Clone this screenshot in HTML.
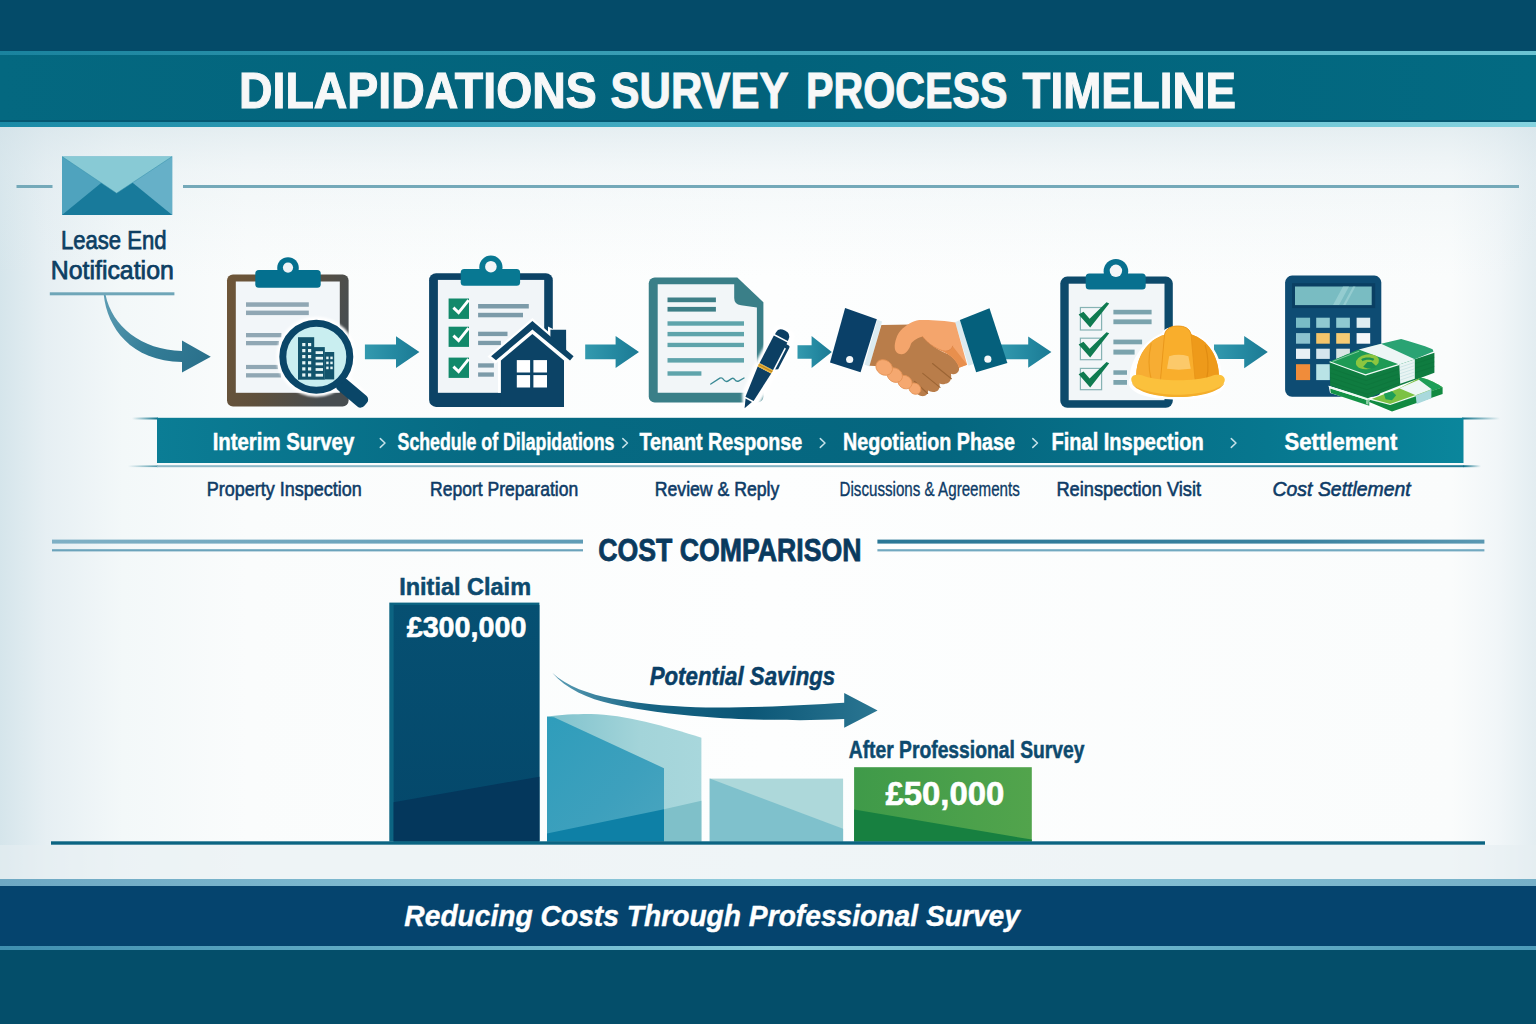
<!DOCTYPE html>
<html>
<head>
<meta charset="utf-8">
<title>Dilapidations Survey Process Timeline</title>
<style>
  html, body { margin: 0; padding: 0; background: #ffffff; }
  body { width: 1536px; height: 1024px; overflow: hidden; font-family: "Liberation Sans", sans-serif; }
  svg { display: block; }
  text { font-family: "Liberation Sans", sans-serif; }
</style>
</head>
<body>
<svg width="1536" height="1024" viewBox="0 0 1536 1024">
  <defs>
    <linearGradient id="bgH" x1="0" y1="0" x2="1" y2="0">
      <stop offset="0" stop-color="#d5e5eb"/>
      <stop offset="0.03" stop-color="#e6eff3"/>
      <stop offset="0.08" stop-color="#f3f8f9"/>
      <stop offset="0.16" stop-color="#fafcfc"/>
      <stop offset="0.5" stop-color="#fdfefe"/>
      <stop offset="0.945" stop-color="#fafcfc"/>
      <stop offset="0.975" stop-color="#f1f6f8"/>
      <stop offset="1" stop-color="#e3edf1"/>
    </linearGradient>
    <linearGradient id="bgTop" x1="0" y1="0" x2="0" y2="1">
      <stop offset="0" stop-color="#d3e2e8" stop-opacity="0.55"/>
      <stop offset="0.3" stop-color="#dde9ee" stop-opacity="0.3"/>
      <stop offset="1" stop-color="#e6eff2" stop-opacity="0"/>
    </linearGradient>
    <linearGradient id="bgBot" x1="0" y1="0" x2="0" y2="1">
      <stop offset="0" stop-color="#e2ecf0" stop-opacity="0"/>
      <stop offset="0.55" stop-color="#e2ecf0" stop-opacity="0.55"/>
      <stop offset="1" stop-color="#dfeaee" stop-opacity="0.9"/>
    </linearGradient>
    <linearGradient id="hl" x1="0" y1="0" x2="1" y2="0">
      <stop offset="0" stop-color="#1a839e"/>
      <stop offset="0.5" stop-color="#3fa3b9"/>
      <stop offset="1" stop-color="#6cc3d2"/>
    </linearGradient>
    <linearGradient id="hl2" x1="0" y1="0" x2="1" y2="0">
      <stop offset="0" stop-color="#1a8aa6"/>
      <stop offset="0.5" stop-color="#4ab0c6"/>
      <stop offset="1" stop-color="#86d3df"/>
    </linearGradient>
    <linearGradient id="ftHl" x1="0" y1="0" x2="1" y2="0">
      <stop offset="0" stop-color="#6ea8c3"/><stop offset="0.5" stop-color="#8fcbdc"/><stop offset="1" stop-color="#76b0c8"/>
    </linearGradient>
    <linearGradient id="ftHl2" x1="0" y1="0" x2="1" y2="0">
      <stop offset="0" stop-color="#3f8fb0"/><stop offset="0.5" stop-color="#86cbdc"/><stop offset="1" stop-color="#4d9bb9"/>
    </linearGradient>
    <linearGradient id="titleBand" x1="0" y1="0" x2="1" y2="0">
      <stop offset="0" stop-color="#046880"/>
      <stop offset="0.5" stop-color="#02627b"/>
      <stop offset="1" stop-color="#036a82"/>
    </linearGradient>
  </defs>

  <!-- ============ BACKGROUND ============ -->
  <rect x="0" y="0" width="1536" height="1024" fill="url(#bgH)"/>
  <rect x="0" y="127" width="1536" height="150" fill="url(#bgTop)"/>
  <rect x="0" y="845" width="1536" height="34" fill="#e6eef2" opacity="0.6"/>

  <!-- ============ HEADER ============ -->
  <rect x="0" y="0" width="1536" height="52" fill="#044b69"/>
  <rect x="0" y="51" width="1536" height="4" fill="url(#hl)"/>
  <rect x="0" y="55" width="1536" height="67" fill="url(#titleBand)"/>
  <rect x="0" y="120" width="1536" height="2" fill="#045872"/>
  <rect x="0" y="122" width="1536" height="5" fill="url(#hl2)"/>
  <g id="title" font-size="50.8" font-weight="bold" fill="#f7f8f8" stroke="#f7f8f8" stroke-width="1.1">
    <text x="239.00" y="108.3" textLength="357.80" lengthAdjust="spacingAndGlyphs">DILAPIDATIONS</text>
    <text x="610.60" y="108.3" textLength="177.97" lengthAdjust="spacingAndGlyphs">SURVEY</text>
    <text x="806.00" y="108.3" textLength="201.38" lengthAdjust="spacingAndGlyphs">PROCESS</text>
    <text x="1022.60" y="108.3" textLength="213.38" lengthAdjust="spacingAndGlyphs">TIMELINE</text>
  </g>

  <!-- ============ FOOTER ============ -->
  <rect x="0" y="879" width="1536" height="7" fill="url(#ftHl)"/>
  <rect x="0" y="886" width="1536" height="60" fill="#05446e"/>
  <rect x="0" y="946" width="1536" height="4" fill="url(#ftHl2)"/>
  <rect x="0" y="950" width="1536" height="74" fill="#044e6a"/>


  <!-- ============ TOP RULE + ENVELOPE ============ -->
  <rect x="16.5" y="185" width="36" height="3" fill="#74a9b9"/>
  <rect x="183" y="185" width="1336" height="3" fill="#74a9b9"/>
  <g id="envelope">
    <rect x="62" y="156.5" width="110.2" height="58.5" fill="#4fa3be"/>
    <polygon points="172.2,156.5 172.2,215 117,176" fill="#66b0c8"/>
    <polygon points="62,215 117,170 172.2,215" fill="#187a9b"/>
    <polygon points="62,156.5 172.2,156.5 116.6,193.2" fill="#88cad5"/>
    <polyline points="62,156.5 116.6,193.2 172.2,156.5" fill="none" stroke="#2f8ca8" stroke-width="0.8" opacity="0.6"/>
  </g>

  <!-- ============ LEASE END NOTIFICATION ============ -->
  <g fill="#0d3f63" stroke="#0d3f63" stroke-width="0.75" font-size="25.2">
    <text x="60.91" y="248.8" textLength="105.68" lengthAdjust="spacingAndGlyphs">Lease End</text>
    <text x="50.75" y="279.2" textLength="123.07" lengthAdjust="spacingAndGlyphs">Notification</text>
  </g>
  <rect x="49.8" y="292.3" width="124.6" height="3" fill="#6fa6b8"/>
  <defs>
    <linearGradient id="swoosh1" gradientUnits="userSpaceOnUse" x1="104" y1="295" x2="211" y2="357">
      <stop offset="0" stop-color="#5d9db4"/>
      <stop offset="0.55" stop-color="#337c96"/>
      <stop offset="1" stop-color="#2a708b"/>
    </linearGradient>
  </defs>
  <path d="M103.8,295 C107,327 131,361.5 182,362 L182,372.6 L210.8,356.8 L182,340.4 L182,351 C141,350 112,326 105.6,295 Z" fill="url(#swoosh1)"/>


  <!-- ============ STRAIGHT STEP ARROWS ============ -->
  <defs>
    <linearGradient id="arw" x1="0" y1="0" x2="1" y2="0">
      <stop offset="0" stop-color="#3399ae"/>
      <stop offset="0.5" stop-color="#258aa2"/>
      <stop offset="1" stop-color="#1b7a94"/>
    </linearGradient>
    <filter id="soft" x="-10%" y="-10%" width="120%" height="120%"><feGaussianBlur stdDeviation="0.35"/></filter>
    <filter id="halo" x="-10%" y="-10%" width="120%" height="120%"><feGaussianBlur stdDeviation="0.9"/></filter>
  </defs>
  <g fill="url(#arw)">
    <path d="M364.9,344.6 H396 V336.3 L419.4,352 L396,367.9 V359.2 H364.9 Z"/>
    <path d="M585.2,344.4 H615.6 V336 L639,352 L615.6,367.9 V359.3 H585.2 Z"/>
    <path d="M797.5,345.2 H811.6 V336.1 L831.8,352.1 L811.6,368.1 V358.8 H797.5 Z"/>
    <path d="M1000,344.6 H1028.2 V336.4 L1051.4,352.1 L1028.2,367.8 V359.2 H1000 Z"/>
    <path d="M1214,344.6 H1244.2 V336 L1267.8,352.1 L1244.2,368.2 V359 H1214 Z"/>
  </g>

  <!-- ============ ICON 1 : CLIPBOARD + MAGNIFIER ============ -->
  <defs>
    <linearGradient id="brown" x1="0" y1="0" x2="1" y2="0.35">
      <stop offset="0" stop-color="#6f5638"/>
      <stop offset="0.5" stop-color="#5f503c"/>
      <stop offset="1" stop-color="#474d50"/>
    </linearGradient>
    <clipPath id="lensClip"><circle cx="316.3" cy="356.7" r="30"/></clipPath>
  </defs>
  <g id="icon1">
    <rect x="227" y="274.6" width="121.6" height="131.8" rx="6" fill="url(#brown)"/>
    <rect x="235.8" y="281.5" width="104" height="111.3" fill="#f2f6f9"/>
    <g fill="#90a7b4">
      <rect x="246" y="302.3" width="62.8" height="4.5"/>
      <rect x="246" y="310.6" width="62.8" height="4.5"/>
      <rect x="246" y="333" width="35.4" height="4.3"/>
      <rect x="246" y="341" width="33" height="4.3"/>
      <rect x="246" y="364.9" width="32" height="4.2"/>
      <rect x="246" y="373.2" width="35" height="4.3"/>
    </g>
    <!-- clip -->
    <circle cx="288" cy="268" r="10.8" fill="#04708f"/>
    <rect x="255.3" y="270" width="65.4" height="17.8" rx="3.5" fill="#04708f"/>
    <circle cx="288" cy="267.6" r="5.1" fill="#eef3f6"/>
    <!-- magnifier -->
    <g>
      <circle cx="316.3" cy="356.7" r="40" fill="#ffffff" filter="url(#halo)"/>
      <path d="M336,383 L346,373 L368,394 L358,404 Z" fill="#ffffff" filter="url(#halo)"/>
      <rect x="-7" y="0" width="14" height="35.5" rx="5" fill="#0a4668" transform="translate(338.5,381.5) rotate(-50)"/>
      <circle cx="316.3" cy="356.7" r="33.5" fill="#c9eef0" stroke="#0a4668" stroke-width="7"/>
      <g clip-path="url(#lensClip)">
        <g fill="#12546c">
          <rect x="298" y="337.2" width="16.2" height="42.5"/>
          <rect x="314" y="347.1" width="10.8" height="32.6"/>
          <rect x="324.6" y="352" width="9.6" height="27.4"/>
        </g>
        <g fill="#e6f6f6">
          <rect x="302.2" y="343" width="3.2" height="3.2"/><rect x="308" y="343" width="3.2" height="3.2"/>
          <rect x="302.2" y="349" width="3.2" height="3.2"/><rect x="308" y="349" width="3.2" height="3.2"/>
          <rect x="302.2" y="355" width="3.2" height="3.2"/><rect x="308" y="355" width="3.2" height="3.2"/>
          <rect x="302.2" y="361.2" width="3.2" height="3.2"/><rect x="308" y="361.2" width="3.2" height="3.2"/>
          <rect x="302.2" y="367.3" width="3.2" height="3.2"/><rect x="308" y="367.3" width="3.2" height="3.2"/>
          <rect x="302.2" y="373.4" width="3.2" height="3.2"/><rect x="308" y="373.4" width="3.2" height="3.2"/>
          <rect x="315.6" y="351.2" width="7.4" height="2.8"/>
          <rect x="315.6" y="356.8" width="7.4" height="2.8"/>
          <rect x="315.6" y="362.5" width="7.4" height="2.8"/>
          <rect x="315.6" y="368.1" width="7.4" height="2.8"/>
          <rect x="315.6" y="373.8" width="7.4" height="2.8"/>
          <rect x="326.2" y="356.6" width="2.4" height="2.6"/><rect x="330.3" y="356.6" width="2.4" height="2.6"/>
          <rect x="326.2" y="361.6" width="2.4" height="2.6"/><rect x="330.3" y="361.6" width="2.4" height="2.6"/>
          <rect x="326.2" y="366.6" width="2.4" height="2.6"/><rect x="330.3" y="366.6" width="2.4" height="2.6"/>
        </g>
      </g>
    </g>
  </g>

  <!-- ============ ICON 2 : CHECKLIST + HOUSE ============ -->
  <g id="icon2">
    <rect x="429.1" y="273.2" width="123.7" height="133.7" rx="7" fill="#0c4366"/>
    <rect x="437.9" y="279.9" width="106.3" height="112.9" fill="#f1f5f8"/>
    <g fill="#12896a">
      <rect x="448.6" y="298.5" width="20.4" height="20.4"/>
      <rect x="448.6" y="326.7" width="20.4" height="20.2"/>
      <rect x="448.6" y="357.6" width="20.4" height="20.3"/>
    </g>
    <g fill="none" stroke="#ffffff" stroke-width="2.9" stroke-linejoin="miter">
      <polyline points="453.4,307.6 458.6,312.6 468.6,300.2"/>
      <polyline points="453.4,335.6 458.6,340.6 468.6,328.2"/>
      <polyline points="453.4,366.6 458.6,371.6 468.6,359.2"/>
    </g>
    <g fill="#7c9ba9">
      <rect x="478.1" y="304" width="50.7" height="4.5"/>
      <rect x="478.1" y="312.8" width="44.9" height="4.5"/>
      <rect x="478.1" y="331.7" width="29.4" height="4.4"/>
      <rect x="478.1" y="340.8" width="22.8" height="4.3"/>
      <rect x="478.1" y="363.3" width="15.8" height="4.3"/>
      <rect x="478.1" y="372.4" width="15.8" height="4.3"/>
    </g>
    <circle cx="490.9" cy="267.2" r="11.6" fill="#087892"/>
    <rect x="460.7" y="269.1" width="59.4" height="16.6" rx="3.5" fill="#087892"/>
    <circle cx="490.9" cy="266.7" r="5.8" fill="#f3f6f8"/>
    <!-- house with white halo -->
    <g>
      <path d="M532.4,318 L487.5,356.5 L495.5,363.8 L498,361.6 V392.8 H555 V330 L548,326.5 L548,331.5 Z" fill="#ffffff" filter="url(#soft)"/>
      <path d="M550.4,329.7 H566.1 V352 L550.4,338.5 Z" fill="#0c4366"/>
      <path d="M532.4,321.1 L491.1,356.3 L496,360.2 L532.4,329.6 L570,360.4 L573.6,356.3 Z" fill="#0c4366"/>
      <path d="M532.4,333.9 L500.9,360.4 V406.9 H564 V360.4 Z" fill="#0c4366"/>
      <g fill="#ffffff">
        <rect x="516.8" y="360.1" width="13.3" height="12.4"/>
        <rect x="533.4" y="360.1" width="13.6" height="12.4"/>
        <rect x="516.8" y="375.1" width="13.3" height="12.4"/>
        <rect x="533.4" y="375.1" width="13.6" height="12.4"/>
      </g>
    </g>
  </g>

  <!-- ============ ICON 3 : DOCUMENT + PEN ============ -->
  <g id="icon3">
    <path d="M654.75,277.5 H737.3 L763.4,302.2 V396.5 a6,6 0 0 1 -6,6 H654.75 a6,6 0 0 1 -6,-6 V283.5 a6,6 0 0 1 6,-6 Z" fill="#3a7f88"/>
    <path d="M657.7,284.2 H734.2 V298 Q734.2,304.4 741,305.2 L756.9,307.6 V392.8 H657.7 Z" fill="#f2f6f8"/>
    <g fill="#3e7f87">
      <rect x="667.5" y="297.5" width="48.4" height="4.7"/>
      <rect x="667.5" y="306.9" width="48.4" height="4.7"/>
    </g>
    <g fill="#5fa4ab">
      <rect x="667.5" y="321.3" width="76.5" height="4.4"/>
      <rect x="667.5" y="331.9" width="76.5" height="4.4"/>
      <rect x="667.5" y="342.8" width="76.5" height="4.3"/>
      <rect x="667.5" y="358.1" width="76.5" height="4.5"/>
      <rect x="667.5" y="371.3" width="33.9" height="4.4"/>
    </g>
    <path d="M710.8,384 L719.8,378.2 Q722,377.2 723.6,379.6 Q726,382.6 728.6,380.6 L731.6,378.6 Q733.4,377.6 734.6,379.4 Q736.6,382.2 739,380.8 L744,378" fill="none" stroke="#3a8a95" stroke-width="1.4" stroke-linecap="round"/>
    <!-- pen: drawn vertical (tip at 0,0 ; top at 0,-88) then rotated 27.5deg -->
    <g transform="translate(744.6,408.2) rotate(27.5)">
      <path d="M0,4 L-9,-12 L-11.5,-40 L-11,-84 Q-11,-91 0,-91 Q12,-91 12,-84 L14.5,-74 L14.5,-44 L12.5,-40 L11,-10 Z" fill="#ffffff" filter="url(#halo)"/>
      <path d="M0,0 L-3.6,-9 H3.6 Z" fill="#0c3f63"/>
      <path d="M-4.6,-10.6 H4.6 L7.6,-43 H-7.6 Z" fill="#0c3f63"/>
      <rect x="-7.7" y="-47" width="15.4" height="4" fill="#e8b23a"/>
      <rect x="-7.7" y="-45.6" width="15.4" height="1" fill="#b9821d"/>
      <path d="M-7.6,-47 V-78 H7.6 V-47 Z" fill="#0c3f63"/>
      <path d="M-7.2,-79.6 V-82 Q-7.2,-87.5 0,-87.5 Q7.2,-87.5 7.2,-81 V-79.6 Z" fill="#0c3f63"/>
      <path d="M7.2,-76 H10.2 Q11.8,-76 11.8,-74 V-50 L9.2,-48.5 V-72 H7.2 Z" fill="#0c3f63"/>
    </g>
  </g>


  <!-- ============ ICON 4 : HANDSHAKE (authored in 6.144x zoom coords) ============ -->
  <g id="icon4" transform="translate(815,290) scale(0.16276)">
    <!-- sleeves + cuffs -->
    <polygon points="383,183 412,194 336,470 304,460" fill="#dcebf0"/>
    <polygon points="185,110 380,180 280,505 92,445" fill="#0a4068"/>
    <circle cx="213" cy="427" r="22" fill="#f4f7f9"/>
    <polygon points="890,185 860,198 943,466 974,454" fill="#dcebf0"/>
    <polygon points="1072,112 1182,448 990,505 890,185" fill="#05607c"/>
    <circle cx="1062" cy="425" r="22" fill="#f4f7f9"/>
    <!-- brown hand -->
    <path d="M408,215 L600,212 L660,285 C700,330 760,370 820,395 C860,420 890,455 885,490 C880,515 850,522 835,515 C842,545 830,575 800,576 C790,581 775,580 765,575 C770,600 760,625 735,626 C720,629 705,625 695,618 C696,640 680,655 655,652 C635,650 615,630 600,604 L400,468 L335,465 Z" fill="#b97d4a"/>
    <g fill="none" stroke="#9c6535" stroke-width="7" stroke-linecap="round">
      <path d="M722,452 L838,545"/>
      <path d="M662,512 L768,598"/>
      <path d="M612,562 L692,636"/>
    </g>
    <!-- light hand -->
    <path d="M862,200 L935,460 L885,478 C880,450 850,415 815,393 C760,370 700,330 660,285 C640,290 600,310 590,330 C580,365 560,390 540,393 C515,398 492,385 490,355 C488,320 505,270 525,250 C560,215 600,190 640,185 C700,182 800,188 862,200 Z" fill="#f4a56c"/>
    <path d="M790,378 C820,376 840,362 846,345 L935,460 L885,478 C880,450 850,415 815,393 Z" fill="#e58b48" opacity="0.85"/>
    <path d="M660,285 C700,335 760,372 800,376 C825,376 842,362 846,345" fill="none" stroke="#e08a4c" stroke-width="6" stroke-linecap="round"/>
    <!-- light finger tips wrapping under -->
    <g fill="#f5a870" stroke="#e39255" stroke-width="5">
      <ellipse cx="614" cy="606" rx="38" ry="33" transform="rotate(35 614 606)"/>
      <ellipse cx="553" cy="566" rx="46" ry="39" transform="rotate(35 553 566)"/>
      <ellipse cx="490" cy="523" rx="50" ry="42" transform="rotate(35 490 523)"/>
      <ellipse cx="425" cy="476" rx="54" ry="45" transform="rotate(35 425 476)"/>
    </g>
  </g>
  </g>

  <!-- ============ ICON 5 : CHECKLIST + HARD HAT ============ -->
  <g id="icon5">
    <rect x="1060.3" y="276.6" width="112.5" height="131.1" rx="7" fill="#0d4a6b"/>
    <rect x="1068.7" y="283.7" width="95.8" height="116.5" fill="#f2f6f8"/>
    <g fill="none" stroke="#86b3b4" stroke-width="1.2">
      <rect x="1080.4" y="307.5" width="21.2" height="22.5"/>
      <rect x="1080.4" y="338.2" width="21.2" height="21.5"/>
      <rect x="1080.4" y="368.4" width="21.2" height="21.3"/>
    </g>
    <g fill="#0e7a50">
      <path d="M1078.6,314.5 L1083.5,311.8 L1089.6,318.8 L1106.5,302.3 L1109.2,303.4 L1090.2,327.6 Z"/>
      <path d="M1078.6,344.4 L1083.5,341.7 L1089.6,348.7 L1106.5,332.2 L1109.2,333.3 L1090.2,357.5 Z"/>
      <path d="M1078.6,374.3 L1083.5,371.6 L1089.6,378.6 L1106.5,362.1 L1109.2,363.2 L1090.2,387.4 Z"/>
    </g>
    <g fill="#7ba3ad">
      <rect x="1113.4" y="309.8" width="38.2" height="4.6"/>
      <rect x="1113.4" y="319.4" width="38.2" height="4.8"/>
      <rect x="1113.4" y="339.6" width="28.7" height="4.7"/>
      <rect x="1113.4" y="349.6" width="21.2" height="5"/>
      <rect x="1113.4" y="370.3" width="13.6" height="4.5"/>
      <rect x="1113.4" y="380" width="13.6" height="4.8"/>
    </g>
    <circle cx="1115.9" cy="271.2" r="12.3" fill="#08708f"/>
    <rect x="1085.7" y="273.6" width="60" height="15.9" rx="3.5" fill="#08708f"/>
    <circle cx="1115.9" cy="270.8" r="6.2" fill="#f3f6f8"/>
    <!-- hard hat (authored in 6.025x zoom coords) -->
    <g transform="translate(1045,250) scale(0.16598)">
      <path d="M512,772 C508,690 565,565 705,500 C722,448 878,448 895,500 C1005,545 1066,650 1062,748 C1108,772 1092,855 1005,880 C900,908 700,908 605,880 C508,855 490,800 512,772 Z" fill="#ffffff" filter="url(#halo)" transform="translate(0,0)"/>
      <path d="M550,772 C545,640 620,540 720,510 C730,470 760,458 800,458 C840,458 870,470 880,508 C980,540 1050,640 1048,772 Z" fill="#f6a623"/>
      <path d="M550,772 C545,640 620,540 720,510 L695,790 Z" fill="#f7ad33"/>
      <path d="M880,508 C980,540 1050,640 1048,772 L905,792 Z" fill="#ee9a1a"/>
      <path d="M720,510 C730,470 760,458 800,458 C840,458 870,470 880,508 L905,792 L695,792 Z" fill="#f9ae2c" stroke="#e79418" stroke-width="5"/>
      <path d="M640,562 C622,640 624,720 640,782" fill="none" stroke="#ec9c1f" stroke-width="7"/>
      <path d="M965,572 C986,650 986,720 974,778" fill="none" stroke="#e08c12" stroke-width="7"/>
      <path d="M748,640 Q805,622 864,640 L878,716 Q805,726 735,716 Z" fill="#fcc96a"/>
      <path d="M520,772 C526,750 560,745 600,760 C700,792 900,792 1000,760 C1040,745 1078,750 1083,778 C1090,832 950,886 800,886 C650,886 510,832 520,772 Z" fill="#fbc13c"/>
      <path d="M524,800 C560,850 690,872 800,872 C910,872 1040,850 1080,800 C1070,845 950,886 800,886 C650,886 535,845 524,800 Z" fill="#f4ae2b"/>
    </g>
  </g>

  <!-- ============ ICON 6 : CALCULATOR + CASH ============ -->
  <g id="icon6">
    <rect x="1285.1" y="275.6" width="96.2" height="121.1" rx="7" fill="#0e4c73"/>
    <rect x="1292" y="283.2" width="83.2" height="24.9" fill="#0a3f63"/>
    <rect x="1295" y="286.5" width="76.7" height="18.6" fill="#79bcc2"/>
    <polygon points="1333,305.1 1343,286.5 1349,286.5 1339,305.1" fill="#9fd3d6" opacity="0.7"/>
    <polygon points="1343,305.1 1353,286.5 1355.5,286.5 1345.5,305.1" fill="#9fd3d6" opacity="0.7"/>
    <g>
      <rect x="1296" y="317.7" width="14.1" height="10.1" fill="#79bcc6"/>
      <rect x="1316.2" y="317.7" width="13.6" height="10.1" fill="#8fc9d1"/>
      <rect x="1336.2" y="317.7" width="13.7" height="10.1" fill="#8fc9d1"/>
      <rect x="1356.6" y="317.7" width="13.6" height="10.1" fill="#dfeef2"/>
      <rect x="1296" y="333.1" width="14.1" height="10.6" fill="#8cc2cf"/>
      <rect x="1316.2" y="333.1" width="13.6" height="10.6" fill="#f3c46a"/>
      <rect x="1336.2" y="333.1" width="13.7" height="10.6" fill="#f6cb74"/>
      <rect x="1356.6" y="333.1" width="13.6" height="10.6" fill="#f4f7f9"/>
      <rect x="1296" y="348.7" width="14.1" height="10.2" fill="#e8f0f5"/>
      <rect x="1316.2" y="348.7" width="13.6" height="10.2" fill="#d5e6ee"/>
      <rect x="1336.2" y="348.7" width="13.7" height="10.2" fill="#d9e5e4"/>
      <rect x="1296" y="364.2" width="14.1" height="15.9" fill="#f08c3a"/>
      <rect x="1316.2" y="364.2" width="13.6" height="15.9" fill="#b9e3e6"/>
    </g>
    <!-- cash (authored in 10.97x zoom coords of region x0=1320,y0=330) -->
    <g transform="translate(1320,330) scale(0.09116)">
      <!-- lower bundle -->
      <path d="M95,612 L545,748 L870,640 L1100,520 L1345,628 L1345,702 L800,902 L110,690 Z" fill="#ffffff" filter="url(#soft)"/>
      <path d="M112,640 L540,775 L540,830 L118,692 Z" fill="#149347"/>
      <path d="M95,612 L545,748 L545,776 L100,640 Z" fill="#eefaf3"/>
      <path d="M560,760 L870,640 L1100,520 C1200,540 1290,590 1345,628 L770,818 Z" fill="#7cc242"/>
      <path d="M1100,520 C1200,540 1290,590 1345,628 L1225,668 L1075,560 Z" fill="#1e9e58"/>
      <path d="M870,640 L1085,545 L1225,650 L1050,715 Z" fill="#edf7f6"/>
      <path d="M700,700 L790,672 L835,715 L790,770 L720,760 Z" fill="#1e9e58"/>
      <path d="M560,760 L770,818 L1050,720" fill="none" stroke="#eefaf3" stroke-width="12"/>
      <path d="M540,790 L790,895 L1345,702 L1345,628 L770,822 L545,765 Z" fill="#118a41"/>
      <path d="M1050,718 L1222,652 L1222,748 L1060,812 Z" fill="#a9d9dc"/>
      <path d="M505,770 L540,760 L530,820 L505,812 Z" fill="#8fd0a8"/>
      <!-- upper bundle : left+front faces -->
      <path d="M108,350 L500,490 L870,375 L1040,320 L1255,250 L1255,470 L870,612 L525,748 L112,612 Z" fill="#0f7c40"/>
      <g stroke="#0a6a35" stroke-width="5" fill="none" opacity="0.7">
        <path d="M112,420 L505,555 L870,430 M112,470 L510,605 L870,480 M112,520 L515,655 L870,530 M112,570 L520,705 L870,580"/>
        <path d="M1040,370 L1255,300 M1040,420 L1255,350 M1040,470 L1255,400"/>
      </g>
      <!-- band on front face -->
      <path d="M870,375 L1040,320 L1040,535 L880,590 Z" fill="#e9f4f3"/>
      <g stroke="#b5d9dd" stroke-width="6" fill="none">
        <path d="M875,410 L1040,355 M876,445 L1040,390 M877,480 L1040,425 M878,515 L1040,460 M879,550 L1040,495"/>
      </g>
      <!-- top face -->
      <path d="M105,348 C250,290 420,215 670,150 L890,100 C1000,130 1130,170 1235,210 L1245,235 L1040,322 L870,378 L500,492 Z" fill="#2aa373"/>
      <path d="M105,348 C250,290 350,245 425,215 L870,378 L500,492 C380,450 230,395 105,348 Z" fill="#1e9a55"/>
      <path d="M425,213 L670,150 L1040,322 L870,378 Z" fill="#edf6f5"/>
      <path d="M105,348 C230,395 380,450 500,492 L870,378" fill="none" stroke="#f2fbf6" stroke-width="14" stroke-linejoin="round"/>
      <path d="M140,345 L430,232" fill="none" stroke="#d9f2e2" stroke-width="6"/>
      <!-- emblem -->
      <ellipse cx="520" cy="348" rx="128" ry="80" fill="#8cc63f" transform="rotate(-10 520 348)"/>
      <path d="M452,322 C480,296 565,294 596,318 L582,338 C556,320 492,322 468,342 Z" fill="#1a9150"/>
      <path d="M474,402 L520,352 L566,352 L622,400 C590,428 508,430 474,402 Z" fill="#1a9150"/>
    </g>
  </g>



  <!-- ============ TEAL STEP BAND ============ -->
  <defs>
    <linearGradient id="stepBand" x1="0" y1="0" x2="1" y2="0">
      <stop offset="0" stop-color="#0b7d95"/>
      <stop offset="0.25" stop-color="#066a83"/>
      <stop offset="0.6" stop-color="#05667f"/>
      <stop offset="0.85" stop-color="#07778f"/>
      <stop offset="1" stop-color="#0a869c"/>
    </linearGradient>
    <linearGradient id="underBand" x1="0" y1="0" x2="1" y2="0">
      <stop offset="0" stop-color="#8fb9c7"/><stop offset="0.55" stop-color="#7fb0c0"/><stop offset="0.8" stop-color="#3f8fa6"/><stop offset="1" stop-color="#1f7a93"/>
    </linearGradient>
    <linearGradient id="fadeL" x1="0" y1="0" x2="1" y2="0">
      <stop offset="0" stop-color="#0b6f88" stop-opacity="0"/>
      <stop offset="1" stop-color="#0b6f88" stop-opacity="1"/>
    </linearGradient>
    <linearGradient id="fadeR" x1="0" y1="0" x2="1" y2="0">
      <stop offset="0" stop-color="#0b6f88" stop-opacity="1"/>
      <stop offset="1" stop-color="#0b6f88" stop-opacity="0"/>
    </linearGradient>
  </defs>
  <rect x="132" y="417.5" width="26" height="2" fill="url(#fadeL)"/>
  <rect x="1462" y="417.5" width="38" height="2" fill="url(#fadeR)"/>
  <rect x="157" y="417.8" width="1306.5" height="45.2" fill="url(#stepBand)"/>
  <rect x="128" y="465.4" width="30" height="1.7" fill="url(#fadeL)" opacity="0.7"/>
  <rect x="157" y="465.2" width="1306.5" height="2" fill="url(#underBand)"/>
  <rect x="1463" y="465.2" width="18" height="2" fill="url(#fadeR)"/>

  <g fill="#ffffff" stroke="#ffffff" stroke-width="0.5" font-size="23.8" font-weight="bold">
    <text x="212.64" y="449.9" textLength="141.59" lengthAdjust="spacingAndGlyphs">Interim Survey</text>
    <text x="397.56" y="449.9" textLength="216.87" lengthAdjust="spacingAndGlyphs">Schedule of Dilapidations</text>
    <text x="639.44" y="449.9" textLength="162.78" lengthAdjust="spacingAndGlyphs">Tenant Response</text>
    <text x="843.12" y="449.9" textLength="171.73" lengthAdjust="spacingAndGlyphs">Negotiation Phase</text>
    <text x="1051.56" y="449.9" textLength="152.18" lengthAdjust="spacingAndGlyphs">Final Inspection</text>
    <text x="1284.55" y="449.9" textLength="112.91" lengthAdjust="spacingAndGlyphs">Settlement</text>
  </g>
  <g fill="none" stroke="#c4e1e8" stroke-width="1.5" stroke-linecap="round" stroke-linejoin="round">
    <polyline points="380.3,438.6 385,443 380.3,447.4"/>
    <polyline points="622.8,438.6 627.5,443 622.8,447.4"/>
    <polyline points="820.3,438.6 825,443 820.3,447.4"/>
    <polyline points="1032.8,438.6 1037.5,443 1032.8,447.4"/>
    <polyline points="1231.3,438.6 1236,443 1231.3,447.4"/>
  </g>

  <!-- ============ STEP SUB-LABELS ============ -->
  <g fill="#0d3b66" stroke="#0d3b66" stroke-width="0.6" font-size="21">
    <text x="206.78" y="495.6" textLength="154.91" lengthAdjust="spacingAndGlyphs">Property Inspection</text>
    <text x="430.11" y="495.6" textLength="148.04" lengthAdjust="spacingAndGlyphs">Report Preparation</text>
    <text x="654.76" y="495.6" textLength="124.58" lengthAdjust="spacingAndGlyphs">Review &amp; Reply</text>
    <text x="839.49" y="495.6" textLength="180.36" lengthAdjust="spacingAndGlyphs" stroke-width="0.35">Discussions &amp; Agreements</text>
    <text x="1056.39" y="495.6" textLength="144.72" lengthAdjust="spacingAndGlyphs">Reinspection Visit</text>
    <text x="1272.55" y="496" textLength="138.18" lengthAdjust="spacingAndGlyphs" font-style="italic">Cost Settlement</text>
  </g>


  <!-- ============ COST COMPARISON HEADER ============ -->
  <defs>
    <linearGradient id="ruleL" x1="0" y1="0" x2="1" y2="0">
      <stop offset="0" stop-color="#7fb0c5"/><stop offset="1" stop-color="#5f9cb6"/>
    </linearGradient>
    <linearGradient id="ruleR" x1="0" y1="0" x2="1" y2="0">
      <stop offset="0" stop-color="#2a7796"/><stop offset="0.7" stop-color="#3a829f"/><stop offset="1" stop-color="#5a98b2"/>
    </linearGradient>
  </defs>
  <rect x="52" y="539.6" width="531" height="4" fill="url(#ruleL)"/>
  <rect x="52" y="549.2" width="531" height="2.2" fill="#6ba3bb"/>
  <rect x="877.4" y="539.6" width="607" height="4" fill="url(#ruleR)"/>
  <rect x="877.4" y="549.2" width="607" height="2.2" fill="#72a9c0"/>
  <text x="598.27" y="560.9" font-size="30.8" font-weight="bold" fill="#0a3a5e" stroke="#0a3a5e" stroke-width="0.8" textLength="263.26" lengthAdjust="spacingAndGlyphs">COST COMPARISON</text>

  <!-- ============ BAR CHART ============ -->
  <defs>
    <linearGradient id="bar1" x1="0" y1="0" x2="0" y2="1">
      <stop offset="0" stop-color="#065072"/><stop offset="1" stop-color="#04476a"/>
    </linearGradient>
    <linearGradient id="bar2front" x1="0" y1="0" x2="1" y2="1">
      <stop offset="0" stop-color="#2f9dbb"/><stop offset="0.6" stop-color="#3da0bd"/><stop offset="1" stop-color="#4aa5bf"/>
    </linearGradient>
    <linearGradient id="bar2back" x1="0" y1="0" x2="1" y2="0">
      <stop offset="0" stop-color="#7fc2cd"/><stop offset="0.6" stop-color="#a3d4d9"/><stop offset="1" stop-color="#a8d7dc"/>
    </linearGradient>
    <linearGradient id="swoosh2" gradientUnits="userSpaceOnUse" x1="552" y1="0" x2="878" y2="0">
      <stop offset="0" stop-color="#5a9db5"/>
      <stop offset="0.3" stop-color="#166383"/>
      <stop offset="0.6" stop-color="#0b5676"/>
      <stop offset="1" stop-color="#2b7692"/>
    </linearGradient>
    <linearGradient id="green" x1="0" y1="0" x2="1" y2="0">
      <stop offset="0" stop-color="#3f9a49"/><stop offset="1" stop-color="#52a44c"/>
    </linearGradient>
  </defs>
  <!-- bar 1 -->
  <rect x="389.3" y="602.6" width="150.1" height="239" fill="#0c6482"/>
  <rect x="393.6" y="605" width="145.8" height="236.6" fill="url(#bar1)"/>
  <polygon points="393.6,802.2 539.4,776.7 539.4,841.6 393.6,841.6" fill="#04375c"/>
  <!-- bar 2 -->
  <path d="M547,716.6 C560,714.5 578,713.8 591,713.9 C625,714.5 665,726 701.4,737.7 V841.6 H547 Z" fill="url(#bar2back)"/>
  <polygon points="664,809.3 701.4,800.8 701.4,841.6 664,841.6" fill="#7fc0c9"/>
  <path d="M547,716.8 L554,717.2 L664,768.2 V841.6 H547 Z" fill="url(#bar2front)"/>
  <polygon points="547,833.4 664,809.3 664,841.6 547,841.6" fill="#0e80a6"/>
  <!-- bar 3 -->
  <rect x="709.7" y="778.6" width="133.4" height="63" fill="#add8da"/>
  <polygon points="709.7,778.6 843.1,828.7 843.1,841.6 709.7,841.6" fill="#7fc1cc"/>
  <!-- green bar -->
  <rect x="854.1" y="767.2" width="177.7" height="74.4" fill="url(#green)"/>
  <polygon points="854.1,809.5 1031.8,839.6 1031.8,841.6 854.1,841.6" fill="#178040"/>
  <!-- baseline -->
  <rect x="51" y="841.3" width="1434" height="3.4" fill="#0b6482"/>

  <!-- swoosh arrow -->
  <path d="M552.2,672.7 C566,686 590,694.5 612,698.4 C645,704.5 680,707 706,707.4 C745,708 800,705.5 844.2,702.7 L844.2,692.9 L877.6,710.5 L844.2,727.8 L844.2,719.1 C815,720.5 790,720.2 774,719.8 C745,719.5 722,718.5 704,716.8 C670,714.2 640,710 612,704 C588,698.5 566,689 552.2,672.7 Z" fill="url(#swoosh2)"/>

  <!-- chart labels -->
  <g font-weight="bold" fill="#0d4a6e" stroke="#0d4a6e" stroke-width="0.5">
    <text x="399.22" y="595" font-size="23.8" textLength="131.82" lengthAdjust="spacingAndGlyphs">Initial Claim</text>
    <text x="848.77" y="757.7" font-size="23.2" textLength="235.69" lengthAdjust="spacingAndGlyphs">After Professional Survey</text>
    <text x="649.67" y="684.8" font-size="25.6" font-style="italic" fill="#0a3f66" stroke="#0a3f66" textLength="185.59" lengthAdjust="spacingAndGlyphs">Potential Savings</text>
  </g>
  <g font-weight="bold" fill="#ffffff" stroke="#ffffff" stroke-width="0.6">
    <text x="406.66" y="636.7" font-size="29.8" textLength="119.77" lengthAdjust="spacingAndGlyphs">£300,000</text>
    <text x="885.45" y="805" font-size="33.6" textLength="118.92" lengthAdjust="spacingAndGlyphs">£50,000</text>
  </g>

  <!-- ============ FOOTER TEXT ============ -->
  <text x="404.36" y="925.8" font-size="29.6" font-weight="bold" font-style="italic" fill="#ffffff" stroke="#ffffff" stroke-width="0.4" textLength="615.56" lengthAdjust="spacingAndGlyphs">Reducing Costs Through Professional Survey</text>


</svg>
</body>
</html>
